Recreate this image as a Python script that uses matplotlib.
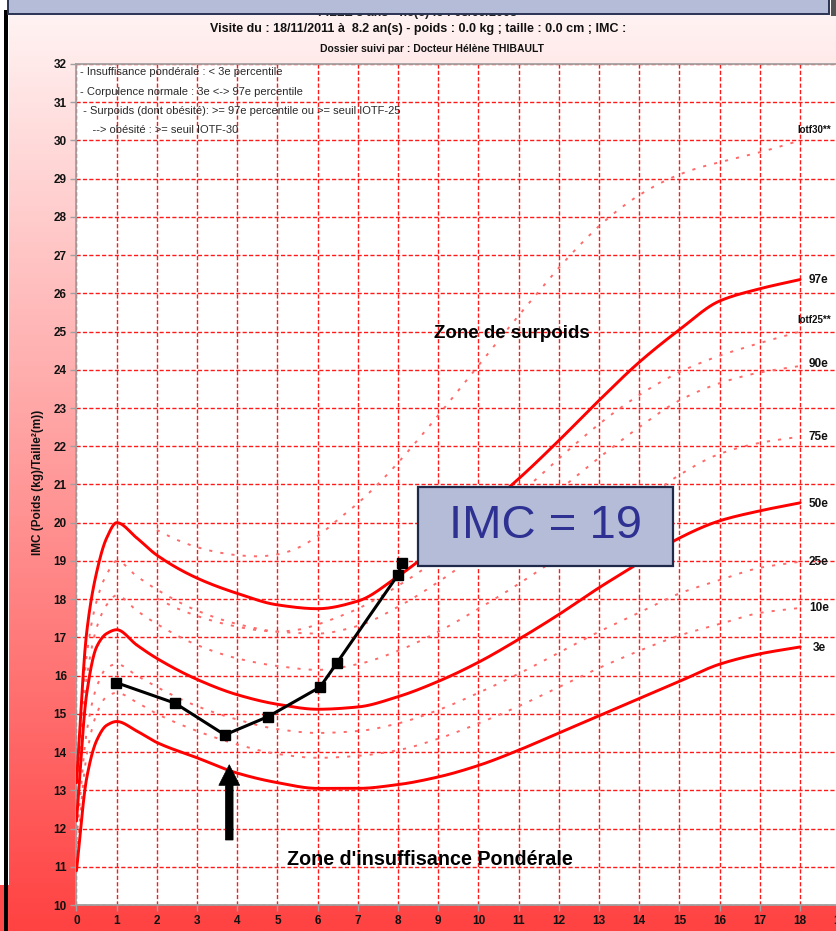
import numpy as np
import matplotlib
matplotlib.use("Agg")
import matplotlib.pyplot as plt
from matplotlib.patches import Rectangle, Polygon

# ---------------------------------------------------------------- data
ages = [0, 0.25, 0.5, 0.75, 1, 1.5, 2, 3, 4, 5, 6, 7, 8, 9, 10, 11, 12,
        13, 14, 15, 16, 17, 18]
p3 = [10.9, 13.3, 14.3, 14.7, 14.8, 14.55, 14.25, 13.85, 13.45, 13.2, 13.05,
      13.05, 13.15, 13.35, 13.65, 14.05, 14.5, 14.95, 15.4, 15.85, 16.3, 16.57, 16.75]
p10 = [11.3, 13.9, 15.0, 15.45, 15.55, 15.3, 15.0, 14.55, 14.2, 13.95, 13.85,
       13.9, 14.05, 14.35, 14.75, 15.2, 15.7, 16.2, 16.65, 17.05, 17.35, 17.64, 17.77]
p25 = [11.7, 14.5, 15.7, 16.2, 16.3, 16.0, 15.7, 15.2, 14.85, 14.6, 14.5,
       14.55, 14.75, 15.1, 15.55, 16.05, 16.6, 17.15, 17.65, 18.15, 18.5, 18.82, 18.98]
p50 = [12.2, 15.5, 16.75, 17.1, 17.2, 16.8, 16.45, 15.9, 15.5, 15.25, 15.12,
       15.18, 15.45, 15.85, 16.35, 16.95, 17.6, 18.3, 18.95, 19.6, 20.05, 20.31, 20.52]
p75 = [12.6, 15.9, 17.25, 17.85, 18.1, 17.7, 17.35, 16.8, 16.45, 16.25, 16.15,
       16.3, 16.65, 17.15, 17.75, 18.4, 19.1, 19.8, 20.5, 21.25, 21.8, 22.09, 22.25]
p90 = [12.9, 16.5, 17.95, 18.65, 19.0, 18.6, 18.25, 17.7, 17.35, 17.15, 17.1,
       17.3, 17.8, 18.45, 19.2, 20.0, 20.85, 21.7, 22.5, 23.2, 23.65, 23.93, 24.1]
p97 = [13.2, 17.1, 18.7, 19.6, 20.0, 19.6, 19.15, 18.55, 18.15, 17.85, 17.75,
       17.95, 18.6, 19.4, 20.25, 21.15, 22.15, 23.2, 24.2, 25.05, 25.8, 26.12, 26.36]

iotf_ages = [2, 2.5, 3, 3.5, 4, 4.5, 5, 5.5, 6, 6.5, 7, 7.5, 8, 8.5, 9, 9.5,
             10, 10.5, 11, 11.5, 12, 12.5, 13, 13.5, 14, 14.5, 15, 15.5, 16,
             16.5, 17, 17.5, 18]
iotf25 = [18.02, 17.76, 17.56, 17.40, 17.28, 17.19, 17.15, 17.20, 17.34, 17.53,
          17.75, 18.03, 18.35, 18.69, 19.07, 19.45, 19.86, 20.29, 20.74, 21.20,
          21.68, 22.14, 22.58, 22.98, 23.34, 23.66, 23.94, 24.17, 24.37, 24.54,
          24.70, 24.85, 25.00]
iotf30 = [19.81, 19.55, 19.36, 19.23, 19.15, 19.12, 19.17, 19.34, 19.65, 20.08,
          20.51, 21.01, 21.57, 22.18, 22.81, 23.46, 24.11, 24.77, 25.42, 26.05,
          26.67, 27.24, 27.76, 28.20, 28.57, 28.87, 29.11, 29.29, 29.43, 29.56,
          29.69, 29.84, 30.00]

visit_ages = [0.98, 2.45, 3.69, 4.77, 6.06, 6.47, 8.0, 8.09]
visit_imc = [15.82, 15.28, 14.45, 14.93, 15.70, 16.32, 18.64, 18.94]

curve_labels = ["Iotf30**", "97e", "Iotf25**", "90e", "75e", "50e", "25e", "10e", "3e"]
legend_lines = [
    "- Insuffisance pondérale : < 3e percentile",
    "- Corpulence normale : 3e <-> 97e percentile",
    " - Surpoids (dont obésité): >= 97e percentile ou >= seuil IOTF-25",
    "    --> obésité : >= seuil IOTF-30",
]


def pchip(x, y, n=24):
    """Monotone cubic path through the given points (for drawing only)."""
    x = np.asarray(x, float)
    y = np.asarray(y, float)
    h = np.diff(x)
    d = np.diff(y) / h
    m = np.zeros_like(y)
    m[0], m[-1] = d[0], d[-1]
    for k in range(1, len(x) - 1):
        if d[k - 1] * d[k] > 0:
            w1 = 2 * h[k] + h[k - 1]
            w2 = h[k] + 2 * h[k - 1]
            m[k] = (w1 + w2) / (w1 / d[k - 1] + w2 / d[k])
    xs, ys = [], []
    for k in range(len(x) - 1):
        t = np.linspace(0, 1, n, endpoint=False)
        h00 = 2 * t**3 - 3 * t**2 + 1
        h10 = t**3 - 2 * t**2 + t
        h01 = -2 * t**3 + 3 * t**2
        h11 = t**3 - t**2
        xs.append(x[k] + t * h[k])
        ys.append(h00 * y[k] + h10 * h[k] * m[k] + h01 * y[k + 1] + h11 * h[k] * m[k + 1])
    xs.append([x[-1]])
    ys.append([y[-1]])
    return np.concatenate(xs), np.concatenate(ys)


# ---------------------------------------------------------------- figure
W, H = 837, 931
fig = plt.figure(figsize=(W / 100, H / 100), dpi=100)
fig.patch.set_facecolor("white")

# page background (pixel coordinates)
bg = fig.add_axes([0, 0, 1, 1], zorder=-10)
bg.set_xlim(0, W)
bg.set_ylim(H, 0)
bg.axis("off")
grad = np.linspace(0, 1, 256)[:, None]
top_c = np.array([255, 244, 244]) / 255
bot_c = np.array([255, 66, 66]) / 255
img = top_c[None, None, :] * (1 - grad[..., None]) + bot_c[None, None, :] * grad[..., None]
img = np.repeat(img, 2, axis=1)
bg.imshow(img, extent=[9, W, H, 8], aspect="auto", interpolation="bilinear")
bg.add_patch(Rectangle((0, 885), 9, 50, color="#ff4a4a", lw=0))
bg.add_patch(Rectangle((4, 10), 4.5, 925, color="black", lw=0))

# main chart
x0_px, y0_px = 76.5, 905
px_x, px_y = 40.2, 38.23
ax = fig.add_axes([x0_px / W, (H - y0_px) / H, 19.5 * px_x / W, 22 * px_y / H])
ax.set_facecolor("white")
ax.set_xlim(0, 19.5)
ax.set_ylim(10, 32)
ax.set_xticks(range(0, 20))
ax.set_yticks(range(10, 33))
for s in ["left", "bottom", "top"]:
    ax.spines[s].set_color("#a0a0a0")
    ax.spines[s].set_linewidth(1.3)
ax.spines["right"].set_visible(False)
ax.tick_params(axis="both", direction="out", length=4, width=1, color="#a0a0a0",
               labelsize=8.5, pad=3)
for lab in ax.get_xticklabels() + ax.get_yticklabels():
    lab.set_fontweight("bold")
    lab.set_family(["Liberation Sans", "DejaVu Sans"])
    lab.set_color("#111111")
ax.grid(True, color="#ff1a1a", linestyle=(0, (3, 1.6)), linewidth=1.0, zorder=0)
ax.set_axisbelow(True)

# percentile curves
solid_kw = dict(color="#ff0000", lw=2.1, solid_capstyle="round", zorder=3)
dot_kw = dict(color="#ff6a6a", lw=1.4, linestyle=(0, (1.6, 4.2)), zorder=2)
for vals, solid in [(p3, True), (p10, False), (p25, False), (p50, True),
                    (p75, False), (p90, False), (p97, True)]:
    xs, ys = pchip(ages, vals)
    ax.plot(xs, ys, **(solid_kw if solid else dot_kw))
for vals in (iotf25, iotf30):
    xs, ys = pchip(iotf_ages, vals)
    ax.plot(xs, ys, **dot_kw)

# patient's measurements
ax.plot(visit_ages, visit_imc, color="black", lw=2.2, marker="s", ms=6.5,
        markerfacecolor="black", zorder=5)

# curve names at the right end
label_pos = [(17.92, 30.26), (18.22, 26.36), (17.92, 25.29), (18.22, 24.14),
             (18.22, 22.25), (18.22, 20.5), (18.22, 18.98), (18.22, 17.77),
             (18.32, 16.73)]
for name, (lx, ly) in zip(curve_labels, label_pos):
    ax.text(lx, ly, name, fontsize=7 if "otf" in name else 8.5, fontweight="bold",
            family=["Liberation Sans", "DejaVu Sans"], color="#111111",
            va="center", ha="left", zorder=6)

# legend block
leg_x = [0.09, 0.09, 0.09, 0.09]
leg_y = [31.79, 31.27, 30.77, 30.27]
for txt, lx, ly in zip(legend_lines, leg_x, leg_y):
    ax.text(lx, ly, txt, fontsize=8, family=["Liberation Sans", "DejaVu Sans"],
            color="#2a2a2a", va="center", ha="left", zorder=6)

# zone titles
ax.text(10.83, 24.95, "Zone de surpoids", fontsize=13.5, fontweight="bold",
        family=["Liberation Sans", "DejaVu Sans"], ha="center", va="center", zorder=6)
ax.text(8.8, 11.2, "Zone d'insuffisance Pondérale", fontsize=14.2, fontweight="bold",
        family=["Liberation Sans", "DejaVu Sans"], ha="center", va="center", zorder=6)

# arrow pointing at the adiposity rebound
ax_x, tail, tip = 3.8, 11.7, 13.67
shaft_hw, head_hw, head_len = 0.095, 0.26, 0.54
arrow = Polygon([(ax_x - shaft_hw, tail), (ax_x + shaft_hw, tail),
                 (ax_x + shaft_hw, tip - head_len), (ax_x + head_hw, tip - head_len),
                 (ax_x, tip), (ax_x - head_hw, tip - head_len),
                 (ax_x - shaft_hw, tip - head_len)], closed=True,
                facecolor="black", edgecolor="black", lw=0.5, zorder=6)
ax.add_patch(arrow)

# IMC callout
ax.add_patch(Rectangle((8.5, 18.87), 6.34, 2.06, facecolor="#b4bcd8",
                       edgecolor="#1f2a4a", lw=1.6, zorder=7))
ax.text(11.67, 19.92, "IMC = 19", fontsize=34, color="#2e3192",
        family=["Liberation Sans", "DejaVu Sans"], ha="center", va="center", zorder=8)

# axis title
fig.text(38 / W, 1 - 482 / H, "IMC (Poids (kg)/Taille²(m))", rotation=90,
         fontsize=8.5, fontweight="bold", family=["Liberation Sans", "DejaVu Sans"],
         ha="center", va="center", color="#111111")

# page header
narrow = ["Liberation Sans Narrow", "Liberation Sans", "DejaVu Sans"]
fig.text(418 / W, 1 - 13 / H, "FILLE 8 ans - né(e) le : 08/09/2003", fontsize=9,
         fontweight="bold", family=narrow, ha="center", va="center", color="#222222")
fig.text(418 / W, 1 - 29 / H,
         "Visite du : 18/11/2011 à  8.2 an(s) - poids : 0.0 kg ; taille : 0.0 cm ; IMC :",
         fontsize=9, fontweight="bold", family=narrow, ha="center", va="center",
         color="#111111")
fig.text(432 / W, 1 - 49 / H, "Dossier suivi par : Docteur Hélène THIBAULT",
         fontsize=7.5, fontweight="bold", family=narrow, ha="center", va="center",
         color="#111111")

# title banner across the top
top = fig.add_axes([0, 0, 1, 1], zorder=20)
top.set_xlim(0, W)
top.set_ylim(H, 0)
top.axis("off")
top.patch.set_alpha(0)
top.add_patch(Rectangle((831, -4), 5, 20, color="#555555", lw=0))
top.add_patch(Rectangle((8, -4), 821, 17.5, facecolor="#b4bcd8", edgecolor="#2a3352", lw=1.4))

fig.savefig("out.png", dpi=100)
